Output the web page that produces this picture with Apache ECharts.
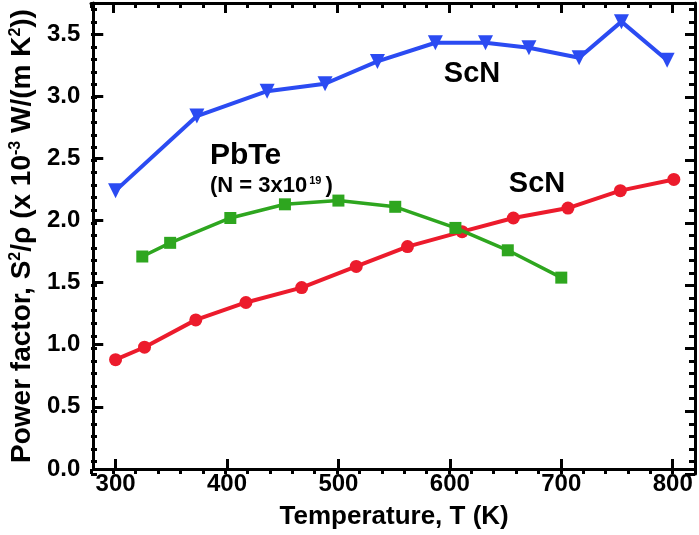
<!DOCTYPE html>
<html>
<head>
<meta charset="utf-8">
<script src="https://cdn.jsdelivr.net/npm/echarts@6/dist/echarts.min.js"></script>
<style>html,body{margin:0;padding:0;background:#fff;}#c{width:699px;height:535px;}</style>
</head>
<body>
<div id="c"></div>
<script>
// ---- data ----
const scnBlueT  = [300, 373, 436, 488, 535, 587, 632, 671, 716, 754, 795];
const scnBluePF = [2.24, 2.84, 3.04, 3.10, 3.28, 3.43, 3.43, 3.39, 3.31, 3.60, 3.29];
const scnRedT   = [300, 326, 372, 417, 467, 516, 562, 611, 657, 706, 753, 801];
const scnRedPF  = [0.88, 0.98, 1.20, 1.34, 1.46, 1.63, 1.79, 1.91, 2.02, 2.10, 2.24, 2.33];
const pbteT     = [324, 349, 403, 452, 500, 551, 605, 652, 700];
const pbtePF    = [1.71, 1.82, 2.02, 2.13, 2.16, 2.11, 1.94, 1.76, 1.54];
const xMajor = [300, 400, 500, 600, 700, 800];
const yMajor = [0, 0.5, 1.0, 1.5, 2.0, 2.5, 3.0, 3.5];

const FONT = '"Liberation Sans", Arial, sans-serif';
const pair = (xs, ys) => xs.map((x, i) => [x, ys[i]]);
const RECT = { left: 91, right: 4, top: 3, bottom: 61, containLabel: false };

// one x + one y axis per grid, all grids share the same rectangle
function xAx(gi, pos, major, showLine, showLabel, extra) {
  const ax = {
    type: 'value', min: 280, max: 820, position: pos, gridIndex: gi,
    axisLine: { show: showLine, onZero: false, lineStyle: { color: '#000', width: 3 } },
    axisTick: { show: true, inside: true, length: major ? 10 : 5, lineStyle: { color: '#000', width: 3 } },
    axisLabel: showLabel ? { show: true, customValues: xMajor, fontSize: 24, fontWeight: 'bold', color: '#000', fontFamily: FONT, margin: 3 } : { show: false },
    splitLine: { show: false }
  };
  if (major) ax.axisTick.customValues = xMajor; else ax.interval = 20;
  return Object.assign(ax, extra || {});
}
function yAx(gi, pos, major, showLine, showLabel, extra) {
  return Object.assign({
    type: 'value', min: 0, max: 3.75, position: pos, gridIndex: gi,
    interval: major ? 0.5 : 0.1,
    axisLine: { show: showLine, onZero: false, lineStyle: { color: '#000', width: 3 } },
    axisTick: { show: true, inside: true, length: major ? 10 : 6, lineStyle: { color: '#000', width: 3 } },
    axisLabel: showLabel ? { show: true, customValues: yMajor, formatter: v => Number(v).toFixed(1), fontSize: 24, fontWeight: 'bold', color: '#000', fontFamily: FONT, margin: 13 } : { show: false },
    splitLine: { show: false }
  }, extra || {});
}

const chart = echarts.init(document.getElementById('c'), null, { renderer: 'canvas' });
chart.setOption({
  backgroundColor: '#fff',
  animation: false,
  grid: [RECT, RECT, RECT, RECT],
  xAxis: [
    xAx(0, 'bottom', true, true, true, {
      name: 'Temperature, T (K)', nameLocation: 'middle', nameGap: 35,
      nameTextStyle: { fontSize: 26, fontWeight: 'bold', color: '#000', fontFamily: FONT }
    }),
    xAx(1, 'bottom', false, false, false),
    xAx(2, 'top', true, true, false),
    xAx(3, 'top', false, false, false)
  ],
  yAxis: [
    yAx(0, 'left', true, true, true, {
      name: 'Power factor, S{s|2}/ρ (x 10{s|-3} W/(m K{s|2}))', nameLocation: 'middle', nameGap: 56, nameRotate: 90,
      nameTextStyle: { fontSize: 28, fontWeight: 'bold', color: '#000', fontFamily: FONT,
        rich: { s: { fontSize: 16, fontWeight: 'bold', color: '#000', fontFamily: FONT, verticalAlign: 'top' } } }
    }),
    yAx(1, 'left', false, false, false),
    yAx(2, 'right', true, true, false),
    yAx(3, 'right', false, false, false)
  ],
  series: [
    { type: 'line', name: 'ScN (blue)', xAxisIndex: 0, yAxisIndex: 0, data: pair(scnBlueT, scnBluePF),
      symbol: 'triangle', symbolRotate: 180, symbolSize: 15, z: 3,
      lineStyle: { color: '#2b4bf2', width: 4 }, itemStyle: { color: '#2b4bf2' } },
    { type: 'line', name: 'ScN (red)', xAxisIndex: 0, yAxisIndex: 0, data: pair(scnRedT, scnRedPF),
      symbol: 'circle', symbolSize: 13, z: 2,
      lineStyle: { color: '#ec1b2c', width: 4 }, itemStyle: { color: '#ec1b2c' } },
    { type: 'line', name: 'PbTe', xAxisIndex: 0, yAxisIndex: 0, data: pair(pbteT, pbtePF),
      symbol: 'rect', symbolSize: 12, z: 4,
      lineStyle: { color: '#2ea61f', width: 3.5 }, itemStyle: { color: '#2ea61f' } }
  ],
  graphic: [
    { type: 'text', x: 472, y: 74, z: 10, style: { text: 'ScN', font: 'bold 29px ' + FONT, fill: '#000', align: 'center', verticalAlign: 'middle' } },
    { type: 'text', x: 537, y: 184, z: 10, style: { text: 'ScN', font: 'bold 29px ' + FONT, fill: '#000', align: 'center', verticalAlign: 'middle' } },
    { type: 'text', x: 210, y: 156, z: 10, style: { text: 'PbTe', font: 'bold 30px ' + FONT, fill: '#000', align: 'left', verticalAlign: 'middle' } },
    { type: 'text', x: 210, y: 186, z: 10, style: {
        text: '{a|(N = 3x10}{s|19}{a|)}', align: 'left', verticalAlign: 'middle',
        rich: {
          a: { fontSize: 22, fontWeight: 'bold', fontFamily: FONT, fill: '#000', color: '#000' },
          s: { fontSize: 11, fontWeight: 'bold', fontFamily: FONT, fill: '#000', color: '#000', verticalAlign: 'top', padding: [0, 4, 0, 2] }
        } } }
  ]
});
</script>
</body>
</html>
